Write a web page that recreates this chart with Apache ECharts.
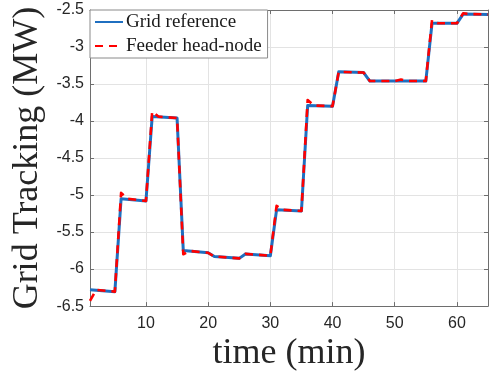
<!DOCTYPE html>
<html>
<head>
<meta charset="utf-8">
<script src="https://cdn.jsdelivr.net/npm/echarts@6/dist/echarts.min.js"></script>
<style>
html,body{margin:0;padding:0;background:#fff;}
#chart{width:489px;height:377px;}
</style>
</head>
<body>
<div id="chart"></div>
<script>
// Grid reference (time in min, power in MW)
var refTime = [1, 5, 6, 10, 11, 15, 16, 20, 21, 25, 26, 30, 31, 35, 36, 40, 41, 45, 46, 55, 56, 60, 61, 65];
var refMW   = [-6.28, -6.305, -5.05, -5.08, -3.94, -3.96, -5.75, -5.78, -5.83, -5.855, -5.795, -5.82, -5.20, -5.215, -3.79, -3.80, -3.335, -3.345, -3.46, -3.46, -2.68, -2.68, -2.555, -2.56];
// Feeder head-node
var feederTime = [1, 2, 5, 6, 7, 10, 11, 12, 15, 16, 17, 20, 21, 25, 26, 30, 31, 32, 35, 36, 37, 40, 41, 45, 46, 50, 51, 52, 55, 56, 57, 60, 61, 62, 65];
var feederMW   = [-6.43, -6.28, -6.305, -4.97, -5.05, -5.08, -3.87, -3.94, -3.96, -5.80, -5.755, -5.78, -5.83, -5.855, -5.795, -5.82, -5.145, -5.20, -5.215, -3.715, -3.79, -3.80, -3.335, -3.345, -3.46, -3.46, -3.44, -3.46, -3.46, -2.635, -2.68, -2.68, -2.545, -2.555, -2.56];
var seriesNames = ['Grid reference', 'Feeder head-node'];
var xRange = [1, 65];
var yRange = [-6.5, -2.5];
var yStep = 0.5;

function pairs(xs, ys) { return xs.map(function (x, i) { return [x, ys[i]]; }); }

var chart = echarts.init(document.getElementById('chart'), null, {renderer: 'canvas'});
var axisGray = '#6e6e6e';
var tickFont = {fontFamily: 'Liberation Sans', fontSize: 16, color: '#262626'};
var nameFont = {fontFamily: 'Liberation Serif', fontSize: 36, color: '#262626'};

chart.setOption({
  animation: false,
  backgroundColor: '#ffffff',
  grid: {left: 90, top: 10, right: 1, bottom: 67, containLabel: false},
  legend: {
    show: true,
    data: seriesNames,
    orient: 'vertical',
    left: 90, top: 10,
    padding: [2, 6, 2, 4],
    itemGap: 4,
    itemWidth: 28,
    itemHeight: 14,
    itemStyle: {opacity: 0},
    backgroundColor: '#ffffff',
    borderColor: '#8a8a8a',
    borderWidth: 1,
    textStyle: {fontFamily: 'Liberation Serif', fontSize: 19, color: '#1a1a1a', lineHeight: 20, padding: [0, 0, 0, -2]}
  },
  xAxis: [{
    type: 'value', min: xRange[0], max: xRange[1],
    name: 'time (min)', nameLocation: 'middle', nameGap: 27,
    nameTextStyle: nameFont,
    axisLine: {show: true, lineStyle: {color: axisGray, width: 1}},
    axisTick: {show: true, inside: true, length: 4, lineStyle: {color: axisGray}},
    axisLabel: Object.assign({margin: 9, showMinLabel: false, showMaxLabel: false}, tickFont),
    splitLine: {show: true, lineStyle: {color: '#e3e3e3', width: 1}}
  }, {
    type: 'value', position: 'top', min: xRange[0], max: xRange[1],
    axisLine: {show: true, lineStyle: {color: axisGray, width: 1}},
    axisTick: {show: true, inside: true, length: 4, lineStyle: {color: axisGray}},
    axisLabel: {show: false},
    splitLine: {show: false}
  }],
  yAxis: [{
    type: 'value', min: yRange[0], max: yRange[1], interval: yStep,
    name: 'Grid Tracking (MW)', nameLocation: 'middle', nameGap: 40,
    nameTextStyle: nameFont,
    axisLine: {show: true, lineStyle: {color: axisGray, width: 1}},
    axisTick: {show: true, inside: true, length: 4, lineStyle: {color: axisGray}},
    axisLabel: Object.assign({margin: 6}, tickFont),
    splitLine: {show: true, lineStyle: {color: '#e3e3e3', width: 1}}
  }, {
    type: 'value', position: 'right', min: yRange[0], max: yRange[1], interval: yStep,
    axisLine: {show: true, lineStyle: {color: axisGray, width: 1}},
    axisTick: {show: true, inside: true, length: 4, lineStyle: {color: axisGray}},
    axisLabel: {show: false},
    splitLine: {show: false}
  }],
  series: [{
    name: seriesNames[0], type: 'line', xAxisIndex: 0, yAxisIndex: 0,
    data: pairs(refTime, refMW), symbol: 'none', z: 2,
    lineStyle: {color: '#1f6fc0', width: 3, join: 'round'},
    itemStyle: {color: '#1f6fc0'}
  }, {
    name: seriesNames[1], type: 'line', xAxisIndex: 0, yAxisIndex: 0,
    data: pairs(feederTime, feederMW), symbol: 'none', z: 3,
    lineStyle: {color: '#ff0000', width: 2.6, type: [8, 6], join: 'round'},
    itemStyle: {color: '#ff0000'}
  }]
});
</script>
</body>
</html>
